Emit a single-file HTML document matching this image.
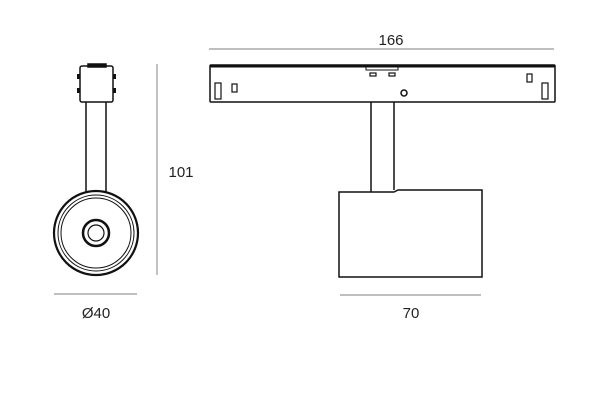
<!DOCTYPE html>
<html><head><style>body{margin:0;background:#fff}svg{display:block}</style></head><body>
<svg width="600" height="400" viewBox="0 0 600 400" xmlns="http://www.w3.org/2000/svg">
<g stroke="#999" stroke-width="1.2">
<line x1="157" y1="64" x2="157" y2="275"/>
<line x1="54" y1="294" x2="137" y2="294"/>
<line x1="209" y1="49" x2="554" y2="49"/>
<line x1="340" y1="295" x2="481" y2="295"/>
</g>
<g font-family="Liberation Sans, sans-serif" font-size="15" fill="#222" text-anchor="middle">
<text x="181" y="177">101</text>
<text x="96" y="318">Ø40</text>
<text x="391" y="45">166</text>
<text x="411" y="318">70</text>
</g>
<g fill="none" stroke="#111" stroke-width="1.5">
<!-- left view -->
<rect x="80" y="66" width="33" height="36" rx="2"/>
<rect x="88" y="64" width="18" height="3" fill="#111"/>
<rect x="77" y="74" width="3" height="5" fill="#111" stroke="none"/>
<rect x="77" y="88" width="3" height="5" fill="#111" stroke="none"/>
<rect x="113" y="74" width="3" height="5" fill="#111" stroke="none"/>
<rect x="113" y="88" width="3" height="5" fill="#111" stroke="none"/>
<line x1="86" y1="102" x2="86" y2="192"/>
<line x1="106" y1="102" x2="106" y2="192"/>
<circle cx="96" cy="233" r="42" stroke-width="2.2"/>
<circle cx="96" cy="233" r="38" stroke-width="1"/>
<circle cx="96" cy="233" r="35" stroke-width="1"/>
<circle cx="96" cy="233" r="13" stroke-width="2.5"/>
<circle cx="96" cy="233" r="8" stroke-width="1.2"/>
<!-- right view -->
<rect x="210" y="65" width="345" height="37" rx="1"/>
<line x1="210" y1="66" x2="555" y2="66" stroke-width="3"/>
<path d="M366 66 v4 h32 v-4" stroke-width="1"/>
<rect x="370" y="73" width="6" height="3" stroke-width="1.2"/>
<rect x="389" y="73" width="6" height="3" stroke-width="1.2"/>
<circle cx="404" cy="93" r="3" stroke-width="1.5"/>
<rect x="215" y="83" width="6" height="16" stroke-width="1.2"/>
<rect x="232" y="84" width="5" height="8" stroke-width="1.2"/>
<rect x="527" y="74" width="5" height="8" stroke-width="1.2"/>
<rect x="542" y="83" width="6" height="16" stroke-width="1.2"/>
<line x1="371" y1="102" x2="371" y2="192"/>
<line x1="394" y1="102" x2="394" y2="190"/>
<path d="M339 192 H394 L398 190 H482 V277 H339 Z"/>
</g>
</svg>
</body></html>
